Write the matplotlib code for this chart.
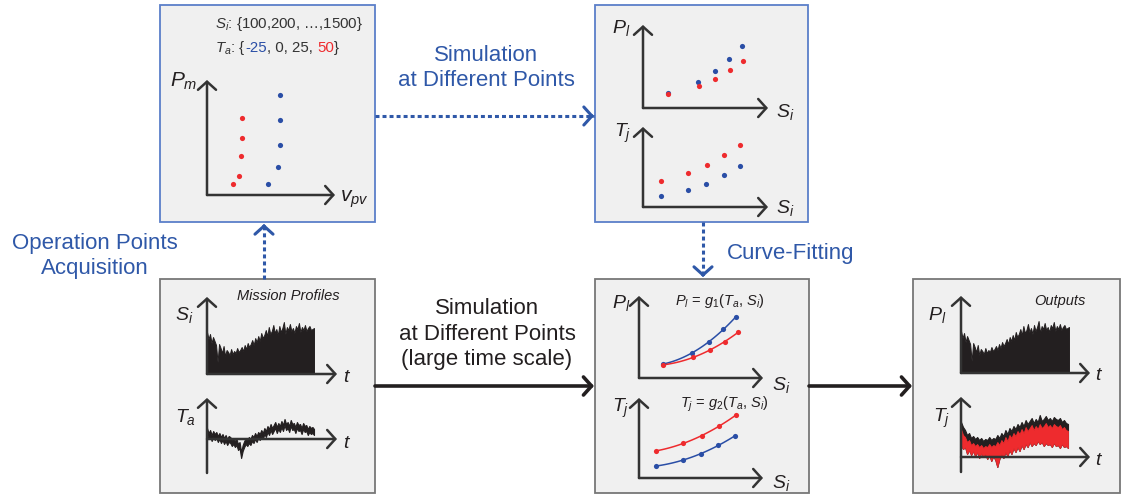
import matplotlib
matplotlib.use('Agg')
import matplotlib.pyplot as plt
from matplotlib.patches import Rectangle
import numpy as np

plt.rcParams['font.family'] = ['Liberation Sans', 'DejaVu Sans']
plt.rcParams['mathtext.fontset'] = 'custom'
plt.rcParams['mathtext.it'] = 'Liberation Sans:italic'
plt.rcParams['mathtext.rm'] = 'Liberation Sans'

W, H = 1123, 495
BLUE = '#2f58a8'
DOT_BLUE = '#2a4ea6'
RED = '#ee2b2e'
INK = '#231f20'
AXC = '#333333'
FILL = '#f0f0f0'

# ---- data (pixel-ish units inside each mini plot) ----
# operating points, P_m vs v_pv
pm_red_v = [26, 32, 34, 35, 35]
pm_red_p = [11, 19, 39, 57, 77]
pm_blue_v = [61, 71, 73, 73, 73]
pm_blue_p = [11, 28, 50, 75, 100]

# simulated points, P_l vs S_i
pl_blue_s = [25, 55, 72, 86, 99]
pl_blue = [15, 26, 37, 49, 62]
pl_red_s = [25, 56, 72, 87, 100]
pl_red = [14, 22, 29, 38, 47]
# simulated points, T_j vs S_i
tj_red_s = [18, 45, 64, 81, 97]
tj_red = [26, 34, 42, 52, 62]
tj_blue_s = [18, 45, 63, 81, 97]
tj_blue = [11, 17, 23, 32, 41]

# curve fitting box points
fit_pl_blue_s = [24, 53, 70, 84, 97]
fit_pl_blue = [14, 25, 36, 49, 61]
fit_pl_red_s = [24, 54, 71, 86, 99]
fit_pl_red = [13, 21, 28, 36, 46]
fit_tj_red_s = [17, 44, 63, 80, 97]
fit_tj_red = [27, 35, 42, 52, 63]
fit_tj_blue_s = [17, 44, 62, 79, 96]
fit_tj_blue = [12, 18, 24, 33, 42]

# mission profiles
si_profile = [42, 35, 40, 31, 37, 33, 29, 12, 30, 26, 21, 28, 18, 24, 22, 19, 25, 20,
              23, 21, 26, 22, 24, 27, 23, 29, 25, 31, 27, 30, 34, 29, 36, 32, 38, 33,
              41, 36, 39, 44, 38, 47, 40, 43, 49, 41, 45, 39, 48, 42, 46, 52, 40, 47,
              44, 50, 43, 46, 41, 48, 45, 51, 42, 47, 44, 49, 43, 46, 48, 44, 45, 46]
ta_profile = [8, 3, 6, 1, 5, 2, 4, 0, 3, -1, 2, -2, 1, -3, 0, -1, -4, -2, -5, -3,
              -8, -6, -16, -9, -5, -2, -4, -1, -3, 1, -1, 3, 0, 4, 2, 6, 3, 8, 5, 10,
              7, 12, 8, 11, 14, 9, 13, 10, 15, 11, 17, 12, 14, 10, 16, 12, 13, 9, 14, 11,
              12, 8, 13, 10, 11, 7, 10, 8, 9, 7]
# outputs, T_j band
tj_black = [35, 30, 27, 22, 24, 19, 21, 18, 20, 17, 19, 16, 18, 17, 20, 17, 19, 18,
            22, 19, 24, 21, 27, 23, 29, 26, 31, 28, 33, 30, 35, 31, 37, 33, 36, 39,
            34, 38, 35, 42, 36, 38, 41, 37, 39, 36, 40, 38, 37, 39, 35, 37, 34, 33]
tj_red_top = [28, 22, 20, 15, 17, 12, 14, 11, 13, 10, 12, 9, 11, 10, 13, 10, 12, 11,
              15, 12, 17, 14, 20, 16, 22, 19, 24, 21, 26, 23, 28, 24, 30, 26, 29, 32,
              27, 31, 28, 33, 29, 31, 34, 30, 32, 29, 33, 31, 30, 32, 28, 30, 27, 26]
tj_red_bot = [12, 8, 10, 3, 7, 2, 6, 1, 5, -1, 4, 0, 3, -2, 2, -4, 1, -3,
              -10, -2, 3, -1, 5, 1, 7, 3, 9, 5, 10, 6, 12, 8, 13, 10, 15, 11,
              14, 12, 16, 13, 15, 11, 14, 12, 13, 10, 14, 11, 12, 9, 13, 10, 11, 9]

fig = plt.figure(figsize=(W / 100, H / 100), dpi=100)
canvas = fig.add_axes([0, 0, 1, 1])
canvas.set_xlim(0, W)
canvas.set_ylim(H, 0)
canvas.axis('off')

# boxes
boxes = [(160, 5, 375, 222, '#5b7fc9'), (595, 5, 808, 222, '#5b7fc9'),
         (160, 279, 375, 493, '#777777'), (595, 279, 809, 493, '#777777'),
         (913, 279, 1120, 493, '#777777')]
for x0, y0, x1, y1, ec in boxes:
    canvas.add_patch(Rectangle((x0, y0), x1 - x0, y1 - y0, facecolor=FILL, edgecolor=ec, lw=1.3))

head = dict(arrowstyle='->,head_length=0.45,head_width=0.5', mutation_scale=13,
            shrinkA=0, shrinkB=0, clip_on=False)


def conn(x0, y0, x1, y1, color, dashed=False):
    if dashed:
        canvas.plot([x0, x1], [y0, y1], color=color, lw=2.2, ls=(0, (1.3, 1.0)))
        d = np.array([x1 - x0, y1 - y0], float)
        d = d / np.hypot(*d) * 4
        canvas.annotate('', xy=(x1, y1), xytext=(x1 - d[0], y1 - d[1]),
                        arrowprops=dict(head, color=color, lw=2.2))
    else:
        canvas.annotate('', xy=(x1, y1), xytext=(x0, y0),
                        arrowprops=dict(head, color=color, lw=2.6))


conn(375, 116, 594, 116, BLUE, dashed=True)
conn(264, 279, 264, 224, BLUE, dashed=True)
conn(703, 222, 703, 277, BLUE, dashed=True)
conn(375, 386, 594, 386, INK)
conn(809, 386, 912, 386, INK)

# flow labels
canvas.text(95, 256, 'Operation Points\nAcquisition', color=BLUE, fontsize=16,
            ha='center', va='center', linespacing=1.27)
canvas.text(486, 68, 'Simulation\nat Different Points', color=BLUE, fontsize=16,
            ha='center', va='center', linespacing=1.27)
canvas.text(727, 253, 'Curve-Fitting', color=BLUE, fontsize=16, ha='left', va='center')
canvas.text(487, 334, 'Simulation\nat Different Points\n(large time scale)', color=INK,
            fontsize=16, ha='center', va='center', linespacing=1.27)


def label(x, y, s, size=14, color=INK, **kw):
    return canvas.text(x, y, s, fontsize=size, color=color, ha='left', va='baseline', **kw)


def mini(ox, oy, right, top, bottom=None):
    bottom = oy if bottom is None else bottom
    ax = fig.add_axes([ox / W, 1 - bottom / H, (right - ox) / W, (bottom - top) / H])
    ax.set_xlim(0, right - ox)
    ax.set_ylim(oy - bottom, oy - top)
    ax.axis('off')
    ap = dict(head, color=AXC, lw=1.8)
    ax.annotate('', xy=(0, oy - top), xytext=(0, oy - bottom), arrowprops=ap, annotation_clip=False)
    ax.annotate('', xy=(right - ox, 0), xytext=(0, 0), arrowprops=ap, annotation_clip=False)
    return ax


def dots(ax, xs, ys, color):
    ax.scatter(xs, ys, s=14, color=color, clip_on=False, zorder=3, linewidths=0)


def fitted(ax, xs, ys, color):
    c = np.polyfit(xs, ys, 2)
    xx = np.linspace(xs[0], xs[-1], 60)
    ax.plot(xx, np.polyval(c, xx), color=color, lw=1.1, clip_on=False)
    dots(ax, xs, ys, color)


def time_axis(profile, span=106):
    return np.linspace(0, span, len(profile))


# ---- box A: operating points ----
ax = mini(207, 195, 335, 80)
dots(ax, pm_red_v, pm_red_p, RED)
dots(ax, pm_blue_v, pm_blue_p, DOT_BLUE)
label(170, 87, r'$P_m$', 15)
label(340, 202, r'$v_{pv}$', 15)
label(215, 28, r'$S_i$: {100,200, …,1500}', 10.8, color='#333333')
x = 215
renderer = fig.canvas.get_renderer()
for s, c in [(r'$T_a$: {', '#333333'), ('-25', DOT_BLUE), (', 0, 25, ', '#333333'),
             ('50', RED), ('}', '#333333')]:
    t = label(x, 52, s, 10.8, color=c)
    x += t.get_window_extent(renderer).width

# ---- box B: simulated points ----
ax = mini(643, 108, 768, 25)
dots(ax, pl_blue_s, pl_blue, DOT_BLUE)
dots(ax, pl_red_s, pl_red, RED)
ax = mini(643, 207, 768, 127)
dots(ax, tj_red_s, tj_red, RED)
dots(ax, tj_blue_s, tj_blue, DOT_BLUE)
label(612, 33, r'$P_l$')
label(776, 117, r'$S_i$')
label(614, 137, r'$T_j$')
label(776, 213, r'$S_i$')

# ---- box D: curve fitting ----
ax = mini(639, 378, 763, 296)
fitted(ax, fit_pl_blue_s, fit_pl_blue, DOT_BLUE)
fitted(ax, fit_pl_red_s, fit_pl_red, RED)
ax = mini(639, 478, 763, 398)
fitted(ax, fit_tj_red_s, fit_tj_red, RED)
fitted(ax, fit_tj_blue_s, fit_tj_blue, DOT_BLUE)
label(612, 308, r'$P_l$')
label(772, 390, r'$S_i$')
label(612, 412, r'$T_j$')
label(772, 488, r'$S_i$')
label(675, 305, r'$P_l$ = $g_1$($T_a$, $S_i$)', 10.5)
label(680, 408, r'$T_j$ = $g_2$($T_a$, $S_i$)', 10.5)

# ---- box C: mission profiles ----
ax = mini(207, 374, 337, 297)
ts = time_axis(si_profile, 107)
ax.fill_between(ts, 0, si_profile, color=INK, lw=0.7, edgecolor=INK)
ax = mini(207, 439, 337, 398, 473)
tt = time_axis(ta_profile, 107)
ta = np.array(ta_profile)
ax.fill_between(tt, ta - 3, ta + 3, color=INK, lw=0.8, edgecolor=INK)
label(175, 320, r'$S_i$')
label(343, 382, r'$t$')
label(175, 422, r'$T_a$')
label(343, 448, r'$t$')
label(237, 300, 'Mission Profiles', 10.5, fontstyle='italic')

# ---- box E: outputs ----
ax = mini(961, 373, 1090, 296)
ax.fill_between(time_axis(si_profile, 108), 0, si_profile, color=INK, lw=0.7, edgecolor=INK)
ax = mini(961, 457, 1090, 397, 472)
tj_t = time_axis(tj_black, 107)
ax.fill_between(tj_t, tj_red_bot, tj_black, color=INK, lw=0.8, edgecolor=INK)
ax.fill_between(tj_t, tj_red_bot, tj_red_top, color=RED, lw=0.6, edgecolor=RED)
label(928, 320, r'$P_l$')
label(1095, 380, r'$t$')
label(933, 422, r'$T_j$')
label(1095, 465, r'$t$')
label(1034, 305, 'Outputs', 10.5, fontstyle='italic')

fig.savefig('out.png', dpi=100)
